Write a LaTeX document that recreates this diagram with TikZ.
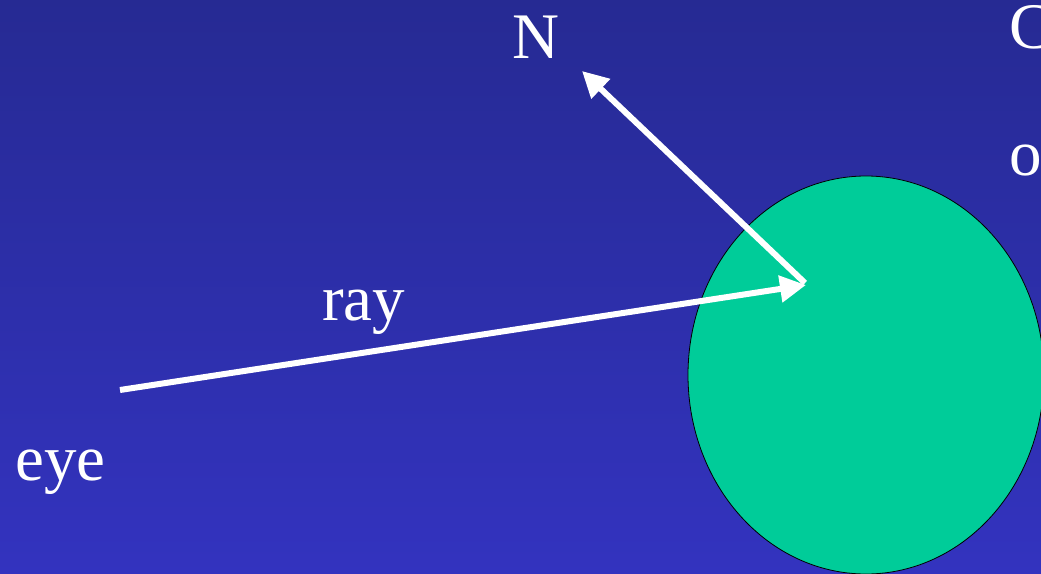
\documentclass[tikz,border=0pt]{standalone}
\usepackage{fontspec}
\setmainfont{Liberation Serif}
\usetikzlibrary{calc,positioning,arrows.meta}

\definecolor{bgtop}{RGB}{38,42,147}
\definecolor{bgbot}{RGB}{51,51,191}
\definecolor{objgreen}{RGB}{0,204,153}

\begin{document}
\begin{tikzpicture}[
    x=1pt, y=-1pt,
    every node/.style={font=\fontsize{65}{78}\selectfont, text=white, inner sep=0pt},
    lbl/.style={anchor=base west},
    vec/.style={draw=white, line width=6pt, -{Triangle[length=26pt,width=26pt]}},
]
    % Background
    \useasboundingbox (0,0) rectangle (1041,573);
    \shade[top color=bgtop, bottom color=bgbot] (0,0) rectangle (1041,573);
    \clip (0,0) rectangle (1041,573);

    % Object
    \fill[objgreen, draw=black, line width=0.8pt] (866,375) ellipse [x radius=178, y radius=199];

    % Points
    \coordinate (eyept) at (120,390);
    \coordinate (hit)   at (806,285);
    \coordinate (ntip)  at (582,71);

    % Vectors
    \draw[vec] (eyept) -- (hit);
    \draw[vec] ($(hit)+(-1,-2)$) -- (ntip);

    % Labels
    \node[lbl] (nlbl)   at (512,58)  {N};
    \node[lbl] (raylbl) at (322,320) {ray};
    \node[lbl] (eyelbl) at (15,480)  {eye};
    \node[lbl] (clbl)   at (1009,48) {C};
    \node[lbl] (olbl)   at (1009,175) {o};
\end{tikzpicture}
\end{document}
